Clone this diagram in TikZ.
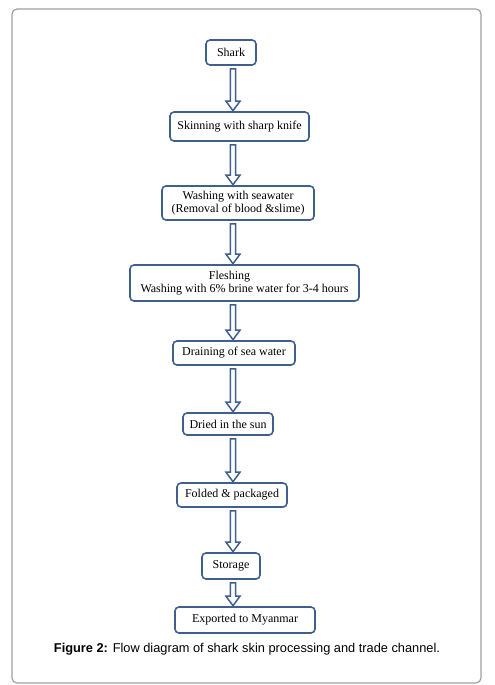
\documentclass[tikz,border=0pt]{standalone}
\usepackage{fontspec}
\setmainfont{Liberation Serif}
\newfontfamily\capfont{Liberation Sans}
\usetikzlibrary{calc}
\definecolor{boxline}{HTML}{3F5F8F}
\definecolor{frameline}{HTML}{A0A0A0}

\begin{document}
\begin{tikzpicture}[x=1pt,y=-1pt,
    stage/.style={draw=boxline, line width=1.6pt, rounded corners=4pt, fill=white,
      align=center, inner sep=1pt, font=\fontsize{12}{13}\selectfont},
    flow/.style={draw=boxline, line width=1.5pt, fill=white, line join=miter,
      to path={let \p1=(\tikztostart), \p2=(\tikztotarget) in
        (\x1-2.6pt,\y1-3pt) -- (\x1-2.6pt,\y2+10pt) -- (\x1-7pt,\y2+10pt) -- (\x1,\y2+0.5pt)
        -- (\x1+7pt,\y2+10pt) -- (\x1+2.6pt,\y2+10pt) -- (\x1+2.6pt,\y1-3pt) -- cycle}}]
  \useasboundingbox (0,0) rectangle (495,685);
  \draw[frameline, line width=1.2pt, rounded corners=5pt] (12,9) rectangle (481,683);

  \coordinate (ax) at (233,0);

  \node[stage, minimum width=50, minimum height=25]  (shark)  at (231,52.5)  {Shark};
  \node[stage, minimum width=139, minimum height=29] (skin)   at (239.5,126.5) {Skinning with sharp knife};
  \node[stage, minimum width=152, minimum height=34] (wash)   at (238,203)   {Washing with seawater\\(Removal of blood \&slime)};
  \node[stage, minimum width=229, minimum height=36] (flesh)  at (244.5,283) {Fleshing\hspace*{30pt}\\Washing with 6\% brine water for 3-4 hours};
  \node[stage, minimum width=122, minimum height=24] (drain)  at (234,353)   {Draining of sea water};
  \node[stage, minimum width=90, minimum height=22]  (dried)  at (228,424)   {Dried in the sun};
  \node[stage, minimum width=110, minimum height=24] (fold)   at (232,495)   {Folded \& packaged};
  \node[stage, minimum width=58, minimum height=26]  (store)  at (231,566)   {Storage};
  \node[stage, minimum width=140, minimum height=26] (export) at (245,620)   {Exported to Myanmar};

  \draw[flow] (shark.south -| ax) to (skin.north -| ax);
  \draw[flow] (skin.south -| ax)  to (wash.north -| ax);
  \draw[flow] (wash.south -| ax)  to (flesh.north -| ax);
  \draw[flow] (flesh.south -| ax) to (drain.north -| ax);
  \draw[flow] (drain.south -| ax) to (dried.north -| ax);
  \draw[flow] (dried.south -| ax) to (fold.north -| ax);
  \draw[flow] (fold.south -| ax)  to (store.north -| ax);
  \draw[flow] (store.south -| ax) to (export.north -| ax);

  \node[font=\capfont\fontsize{12.8}{14}\selectfont] (cap) at (247,649)
    {\textbf{Figure 2:} Flow diagram of shark skin processing and trade channel.};
\end{tikzpicture}
\end{document}
